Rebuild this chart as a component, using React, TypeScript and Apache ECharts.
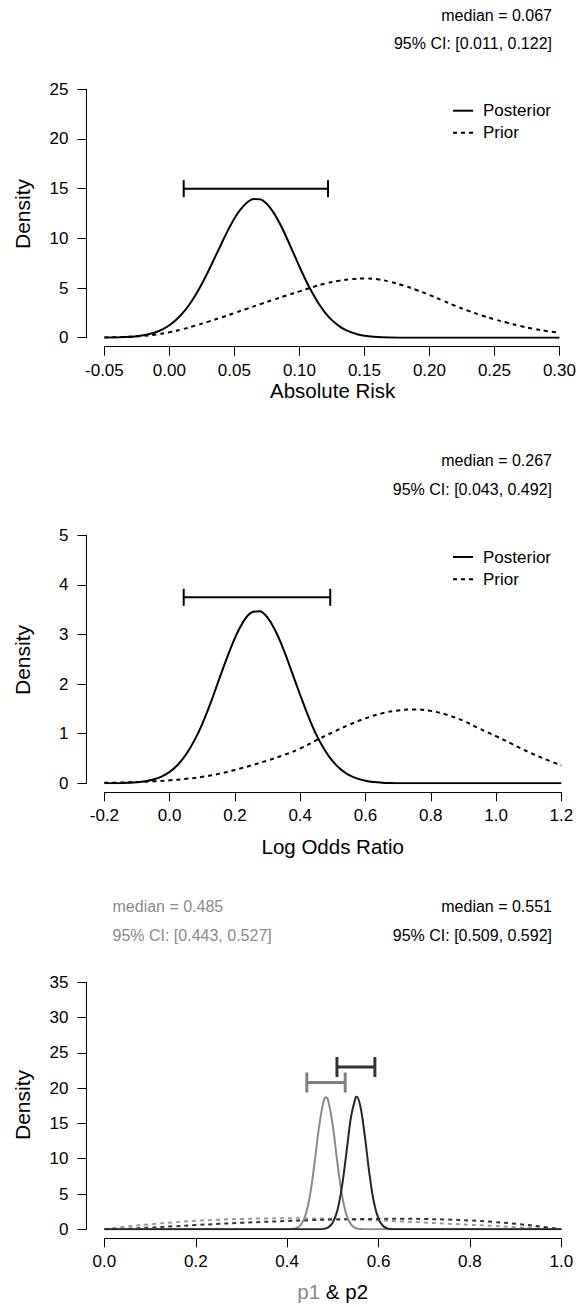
import React, { useEffect, useRef } from "react";
import * as echarts from "echarts";

// ---------- Panel 1: Absolute Risk ----------
const arPostX = [-0.05, -0.04, -0.03, -0.02, -0.01, -0.005, 0.0, 0.005, 0.01, 0.015, 0.02, 0.025, 0.03, 0.035, 0.04, 0.045, 0.05, 0.055, 0.06, 0.065, 0.07, 0.075, 0.08, 0.085, 0.09, 0.095, 0.1, 0.105, 0.11, 0.115, 0.12, 0.125, 0.13, 0.135, 0.14, 0.145, 0.15, 0.16, 0.17, 0.18, 0.19, 0.2, 0.25, 0.3];
const arPosterior = [0.01, 0.03, 0.09, 0.24, 0.58, 0.86, 1.25, 1.77, 2.44, 3.27, 4.27, 5.43, 6.71, 8.08, 9.46, 10.8, 12.0, 12.96, 13.64, 13.97, 13.92, 13.46, 12.61, 11.47, 10.11, 8.64, 7.16, 5.76, 4.49, 3.39, 2.48, 1.77, 1.22, 0.81, 0.53, 0.33, 0.2, 0.07, 0.02, 0.005, 0.001, 0, 0, 0];
const arPriorX = [-0.05, -0.04, -0.03, -0.02, -0.01, 0.0, 0.01, 0.02, 0.03, 0.04, 0.05, 0.06, 0.07, 0.08, 0.09, 0.1, 0.11, 0.12, 0.13, 0.14, 0.15, 0.16, 0.17, 0.18, 0.19, 0.2, 0.21, 0.22, 0.23, 0.24, 0.25, 0.26, 0.27, 0.28, 0.29, 0.3];
const arPrior = [0.02, 0.05, 0.1, 0.18, 0.32, 0.55, 0.85, 1.22, 1.62, 2.04, 2.48, 2.93, 3.38, 3.82, 4.25, 4.66, 5.08, 5.45, 5.72, 5.9, 5.97, 5.88, 5.62, 5.25, 4.8, 4.3, 3.75, 3.2, 2.7, 2.25, 1.85, 1.5, 1.17, 0.9, 0.68, 0.5];
const arCI = [0.011, 0.122, 15];
const arTexts = ["median = 0.067", "95% CI: [0.011, 0.122]"];

// ---------- Panel 2: Log Odds Ratio ----------
const lorPostX = [-0.2, -0.175, -0.15, -0.125, -0.1, -0.075, -0.05, -0.025, 0.0, 0.025, 0.05, 0.075, 0.1, 0.125, 0.15, 0.175, 0.2, 0.225, 0.25, 0.275, 0.3, 0.325, 0.35, 0.375, 0.4, 0.425, 0.45, 0.475, 0.5, 0.525, 0.55, 0.575, 0.6, 0.625, 0.65, 0.675, 0.7, 0.75, 0.9, 1.05, 1.2];
const lorPosterior = [0.001, 0.002, 0.005, 0.01, 0.021, 0.041, 0.076, 0.135, 0.23, 0.374, 0.58, 0.855, 1.2, 1.61, 2.07, 2.52, 2.93, 3.25, 3.44, 3.47, 3.34, 3.06, 2.68, 2.23, 1.78, 1.35, 0.97, 0.67, 0.44, 0.276, 0.165, 0.094, 0.051, 0.026, 0.013, 0.006, 0.003, 0, 0, 0, 0];
const lorPriorX = [-0.2, -0.15, -0.1, -0.05, 0.0, 0.05, 0.1, 0.15, 0.2, 0.25, 0.3, 0.35, 0.4, 0.45, 0.5, 0.55, 0.6, 0.65, 0.7, 0.75, 0.8, 0.85, 0.9, 0.95, 1.0, 1.05, 1.1, 1.15, 1.2];
const lorPrior = [0.01, 0.015, 0.025, 0.04, 0.06, 0.09, 0.13, 0.19, 0.27, 0.36, 0.46, 0.57, 0.7, 0.87, 1.03, 1.18, 1.31, 1.41, 1.47, 1.49, 1.46, 1.38, 1.26, 1.1, 0.95, 0.79, 0.63, 0.49, 0.36];
const lorCI = [0.043, 0.492, 3.75];
const lorTexts = ["median = 0.267", "95% CI: [0.043, 0.492]"];

// ---------- Panel 3: p1 & p2 ----------
const p1PostX = [0, 0.38, 0.4, 0.41, 0.42, 0.43, 0.44, 0.45, 0.46, 0.47, 0.48, 0.485, 0.49, 0.5, 0.51, 0.52, 0.53, 0.54, 0.55, 0.56, 0.58, 1];
const p1Posterior = [0, 0, 0.01, 0.05, 0.18, 0.67, 2.0, 4.85, 9.4, 14.6, 18.2, 18.7, 18.2, 14.6, 9.4, 4.85, 2.0, 0.67, 0.18, 0.04, 0, 0];
const p2PostX = [0, 0.45, 0.47, 0.48, 0.49, 0.5, 0.51, 0.52, 0.53, 0.54, 0.55, 0.552, 0.56, 0.57, 0.58, 0.59, 0.6, 0.61, 0.62, 0.63, 0.65, 1];
const p2Posterior = [0, 0, 0.01, 0.06, 0.27, 0.96, 2.7, 6.1, 11.0, 16.0, 18.7, 18.8, 17.5, 13.2, 7.9, 3.8, 1.48, 0.46, 0.11, 0.02, 0, 0];
const pPriorX = [0, 0.05, 0.1, 0.15, 0.2, 0.25, 0.3, 0.35, 0.4, 0.45, 0.5, 0.55, 0.6, 0.65, 0.7, 0.75, 0.8, 0.85, 0.9, 0.95, 1.0];
const p1Prior = [0, 0.42, 0.72, 0.98, 1.2, 1.36, 1.47, 1.53, 1.56, 1.54, 1.48, 1.39, 1.27, 1.12, 0.96, 0.8, 0.64, 0.48, 0.3, 0.13, 0];
const p2Prior = [0, 0.08, 0.25, 0.42, 0.6, 0.77, 0.92, 1.06, 1.18, 1.29, 1.38, 1.44, 1.48, 1.49, 1.46, 1.38, 1.25, 1.05, 0.78, 0.42, 0];
const p1CI = [0.443, 0.527, 20.8];
const p2CI = [0.509, 0.592, 23.0];
const p1Texts = ["median = 0.485", "95% CI: [0.443, 0.527]"];
const p2Texts = ["median = 0.551", "95% CI: [0.509, 0.592]"];

// axes
const axes = [
  { min: -0.05, max: 0.3, interval: 0.05, digits: 2, yMax: 25, yInterval: 5, title: "Absolute Risk" },
  { min: -0.2, max: 1.2, interval: 0.2, digits: 1, yMax: 5, yInterval: 1, title: "Log Odds Ratio" },
  { min: 0, max: 1, interval: 0.2, digits: 1, yMax: 35, yInterval: 5, title: "p1 & p2" },
];

const FONT = '"Liberation Sans", Arial, Helvetica, sans-serif';
const GRAY = "#8a8a8a";
const DARK = "#262626";

const zip = (xs: number[], ys: number[]) => xs.map((x, i) => [x, ys[i]]);

export default function App() {
  const ref = useRef<HTMLDivElement>(null);
  useEffect(() => {
    if (!ref.current) return;
    const chart = echarts.init(ref.current, undefined, { renderer: "svg" });

    const gridTops = [89.3, 535.3, 982.3];
    const gridHeights = [248.4, 248, 247];
    const left = 104.4;
    const plotW = 456.9;

    const grid = gridTops.map((t, i) => ({ left, top: t, width: plotW, height: gridHeights[i] }));

    const xAxis = axes.map((a, i) => ({
      type: "value",
      gridIndex: i,
      min: a.min,
      max: a.max,
      interval: a.interval,
      offset: 9,
      axisLine: { show: true, onZero: false, lineStyle: { color: "#000", width: 1 } },
      axisTick: { show: true, length: 9, lineStyle: { color: "#000", width: 1 } },
      axisLabel: {
        show: true,
        color: "#000",
        fontSize: 17,
        fontFamily: FONT,
        margin: 15,
        formatter: (v: number) => v.toFixed(a.digits),
      },
      splitLine: { show: false },
    }));

    const yAxis = axes.map((a, i) => ({
      type: "value",
      gridIndex: i,
      min: 0,
      max: a.yMax,
      interval: a.yInterval,
      offset: 18,
      axisLine: { show: true, onZero: false, lineStyle: { color: "#000", width: 1 } },
      axisTick: { show: true, length: 9, lineStyle: { color: "#000", width: 1 } },
      axisLabel: { show: true, color: "#000", fontSize: 17, fontFamily: FONT, margin: 18 },
      splitLine: { show: false },
    }));

    const lineSeries = (idx: number, data: number[][], color: string, dashed: boolean, width = 2) => ({
      type: "line",
      xAxisIndex: idx,
      yAxisIndex: idx,
      data,
      showSymbol: false,
      symbol: "none",
      smooth: 0.4,
      silent: true,
      lineStyle: { color, width, type: dashed ? [4, 4] : "solid" },
      z: dashed ? 2 : 3,
    });

    const ciSeries = (idx: number, ci: number[], color: string, width: number, capHalf: number) => ({
      type: "custom",
      xAxisIndex: idx,
      yAxisIndex: idx,
      data: [ci],
      encode: { x: [0, 1], y: 2 },
      silent: true,
      z: 4,
      renderItem: (_p: any, api: any) => {
        const a = api.coord([api.value(0), api.value(2)]);
        const b = api.coord([api.value(1), api.value(2)]);
        const style = { stroke: color, lineWidth: width };
        return {
          type: "group",
          children: [
            { type: "line", shape: { x1: a[0], y1: a[1], x2: b[0], y2: b[1] }, style },
            { type: "line", shape: { x1: a[0], y1: a[1] - capHalf, x2: a[0], y2: a[1] + capHalf }, style },
            { type: "line", shape: { x1: b[0], y1: b[1] - capHalf, x2: b[0], y2: b[1] + capHalf }, style },
          ],
        };
      },
    });

    const series = [
      lineSeries(0, zip(arPriorX, arPrior), "#000", true),
      lineSeries(0, zip(arPostX, arPosterior), "#000", false),
      ciSeries(0, arCI, "#000", 2, 8.5),
      lineSeries(1, zip(lorPriorX, lorPrior), "#000", true),
      lineSeries(1, zip(lorPostX, lorPosterior), "#000", false),
      ciSeries(1, lorCI, "#000", 2, 8.5),
      lineSeries(2, zip(pPriorX, p1Prior), "#9a9a9a", true),
      lineSeries(2, zip(pPriorX, p2Prior), "#333", true),
      lineSeries(2, zip(p1PostX, p1Posterior), GRAY, false),
      lineSeries(2, zip(p2PostX, p2Posterior), DARK, false),
      ciSeries(2, p1CI, "#808080", 3, 10),
      ciSeries(2, p2CI, "#333", 3, 10),
    ];

    const txt = (text: string, x: number, y: number, size: number, align = "left", fill = "#000") => ({
      type: "text",
      x,
      y,
      silent: true,
      style: { text, fill, fontSize: size, fontFamily: FONT, align, verticalAlign: "middle" },
    });

    const legend = (yTop: number, yBot: number) => [
      { type: "line", silent: true, shape: { x1: 453, y1: yTop, x2: 473, y2: yTop }, style: { stroke: "#000", lineWidth: 2 } },
      { type: "line", silent: true, shape: { x1: 453, y1: yBot, x2: 473, y2: yBot }, style: { stroke: "#000", lineWidth: 2, lineDash: [4, 4] } },
      txt("Posterior", 483, yTop, 17),
      txt("Prior", 483, yBot, 17),
    ];

    const densityLabel = (cy: number) => ({
      type: "text",
      x: 22,
      y: cy,
      rotation: Math.PI / 2,
      silent: true,
      style: { text: "Density", fill: "#000", fontSize: 21, fontFamily: FONT, align: "center", verticalAlign: "middle" },
    });

    const graphic = [
      txt(arTexts[0], 552, 15, 16, "right"),
      txt(arTexts[1], 552, 43.3, 16, "right"),
      ...legend(110.7, 132.7),
      densityLabel(214),
      txt(axes[0].title, 332.7, 390, 20.5, "center"),

      txt(lorTexts[0], 552, 460.7, 16, "right"),
      txt(lorTexts[1], 552, 489.3, 16, "right"),
      ...legend(557, 579.3),
      densityLabel(660),
      txt(axes[1].title, 332.7, 846.5, 20.5, "center"),

      txt(p1Texts[0], 112.5, 906.7, 16, "left", GRAY),
      txt(p1Texts[1], 112.5, 935, 16, "left", GRAY),
      txt(p2Texts[0], 552, 906.7, 16, "right"),
      txt(p2Texts[1], 552, 935, 16, "right"),
      densityLabel(1105),
      {
        type: "text",
        x: 332.7,
        y: 1291.5,
        silent: true,
        style: {
          text: "{g|p1} & p2",
          fill: "#000",
          fontSize: 20.5,
          fontFamily: FONT,
          align: "center",
          verticalAlign: "middle",
          rich: { g: { fill: GRAY, fontSize: 20.5, fontFamily: FONT } },
        },
      },
    ];

    chart.setOption({
      animation: false,
      backgroundColor: "#fff",
      grid,
      xAxis,
      yAxis,
      series,
      graphic,
    });

    return () => chart.dispose();
  }, []);

  return <div ref={ref} style={{ position: "fixed", left: 0, top: 0, width: 579, height: 1307 }} />;
}
